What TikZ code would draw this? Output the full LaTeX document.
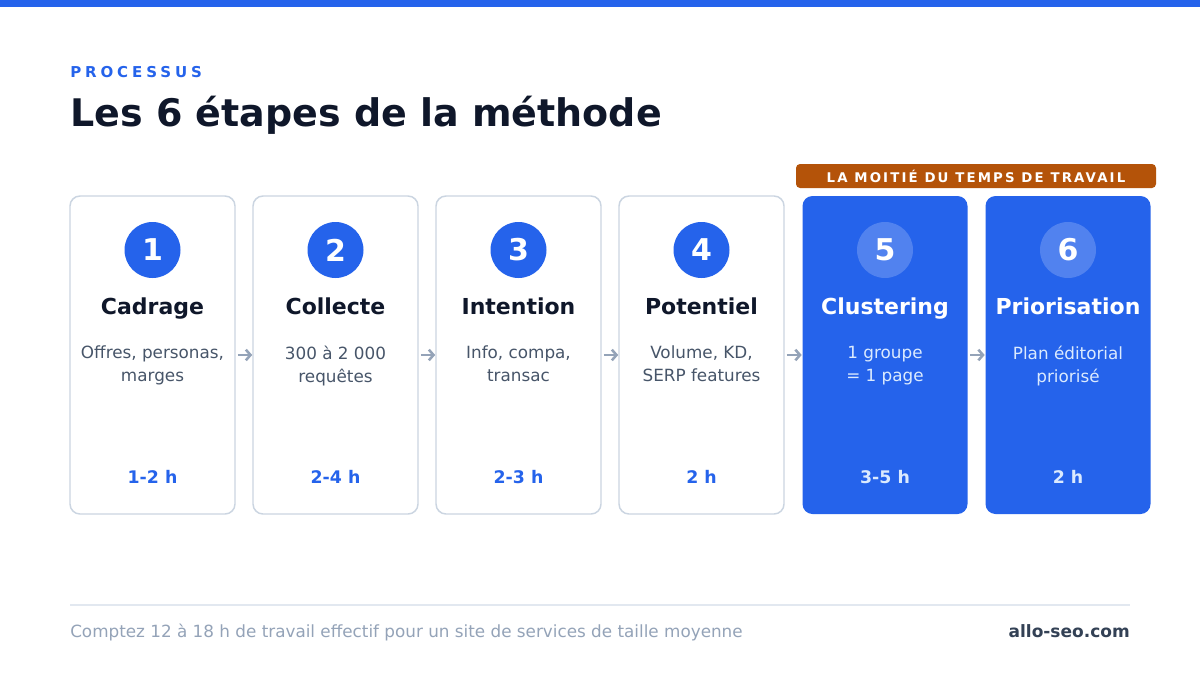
\documentclass[tikz,border=0pt]{standalone}
\usepackage{fontspec}
\setmainfont{DejaVu Sans}
\usetikzlibrary{positioning}
\usetikzlibrary{arrows.meta}

\definecolor{brandblue}{HTML}{2563EB}
\definecolor{ink}{HTML}{0F172A}
\definecolor{muted}{HTML}{475569}
\definecolor{cardline}{HTML}{CBD5E1}
\definecolor{flowgray}{HTML}{94A3B8}
\definecolor{rust}{HTML}{B45309}
\definecolor{rule}{HTML}{E2E8F0}
\definecolor{slate}{HTML}{334155}
\definecolor{paleblue}{HTML}{DBEAFE}
\definecolor{softblue}{HTML}{5182EF}

\tikzset{
  card/.style={rectangle, rounded corners=7.5pt, minimum width=123.75pt, minimum height=238.5pt, inner sep=0pt, outer sep=0pt},
  plaincard/.style={card, draw=cardline, line width=1.1pt, fill=white},
  bluecard/.style={card, fill=brandblue},
  numdot/.style={circle, minimum size=42pt, inner sep=0pt, text=white, font=\bfseries\fontsize{22.5}{27}\selectfont},
  stagetitle/.style={anchor=base, inner sep=0pt, font=\bfseries\fontsize{16.5}{20}\selectfont},
  stagetext/.style={anchor=north, inner sep=0pt, align=center, font=\fontsize{12.6}{17.25}\selectfont},
  stagetime/.style={anchor=base, inner sep=0pt, font=\bfseries\fontsize{13}{15}\selectfont},
  flow/.style={draw=flowgray, line width=1.9pt, -{Straight Barb[length=3.5pt,width=8pt]}, shorten <=2.2pt, shorten >=0.6pt}
}

\begin{document}
\begin{tikzpicture}[x=0.75pt,y=-0.75pt]
\useasboundingbox (0,0) rectangle (1200,675);
\fill[white] (0,0) rectangle (1200,675);
\fill[brandblue] (0,0) rectangle (1200,7);

% heading
\node[anchor=base west, inner sep=0pt, text=brandblue, font=\bfseries\fontsize{11.25}{13}\selectfont\addfontfeature{LetterSpace=26}] (kicker) at (70,77.5) {PROCESSUS};
\node[anchor=base west, inner sep=0pt, text=ink, font=\bfseries\fontsize{28.5}{34}\selectfont] (headline) at (70,126) {Les 6 étapes de la méthode};

% cards
\node[plaincard] (c1) at (152.5,355) {};
\node[plaincard] (c2) at (335.5,355) {};
\node[plaincard] (c3) at (518.5,355) {};
\node[plaincard] (c4) at (701.5,355) {};
\node[bluecard] (c5) at (885,355) {};
\node[bluecard] (c6) at (1068,355) {};

\node[rectangle, rounded corners=3pt, fill=rust, minimum width=270pt, minimum height=18pt, inner sep=0pt, text=white, font=\bfseries\fontsize{10}{12}\selectfont\addfontfeature{LetterSpace=16}] (half) at (976,176) {LA MOITIÉ DU TEMPS DE TRAVAIL};

% step 1
\node[numdot, fill=brandblue] (n1) at (152.5,250) {1};
\node[stagetitle, text=ink] (t1) at (152.5,314) {Cadrage};
\node[stagetext, text=muted] (d1) at (152.5,345.5) {Offres, personas,\\marges};
\node[stagetime, text=brandblue] (h1) at (152.5,483) {1-2 h};
% step 2
\node[numdot, fill=brandblue] (n2) at (335.5,250) {2};
\node[stagetitle, text=ink] (t2) at (335.5,314) {Collecte};
\node[stagetext, text=muted] (d2) at (335.5,345.5) {300 à 2 000\\requêtes};
\node[stagetime, text=brandblue] (h2) at (335.5,483) {2-4 h};
% step 3
\node[numdot, fill=brandblue] (n3) at (518.5,250) {3};
\node[stagetitle, text=ink] (t3) at (518.5,314) {Intention};
\node[stagetext, text=muted] (d3) at (518.5,345.5) {Info, compa,\\transac};
\node[stagetime, text=brandblue] (h3) at (518.5,483) {2-3 h};
% step 4
\node[numdot, fill=brandblue] (n4) at (701.5,250) {4};
\node[stagetitle, text=ink] (t4) at (701.5,314) {Potentiel};
\node[stagetext, text=muted] (d4) at (701.5,345.5) {Volume, KD,\\SERP features};
\node[stagetime, text=brandblue] (h4) at (701.5,483) {2 h};
% step 5
\node[numdot, fill=softblue] (n5) at (885,250) {5};
\node[stagetitle, text=white] (t5) at (885,314) {Clustering};
\node[stagetext, text=paleblue] (d5) at (885,345.5) {1 groupe\\= 1 page};
\node[stagetime, text=paleblue] (h5) at (885,483) {3-5 h};
% step 6
\node[numdot, fill=softblue] (n6) at (1068,250) {6};
\node[stagetitle, text=white] (t6) at (1068,314) {Priorisation};
\node[stagetext, text=paleblue] (d6) at (1068,345.5) {Plan éditorial\\priorisé};
\node[stagetime, text=paleblue] (h6) at (1068,483) {2 h};

% arrows
\draw[flow] (c1.east) -- (c2.west);
\draw[flow] (c2.east) -- (c3.west);
\draw[flow] (c3.east) -- (c4.west);
\draw[flow] (c4.east) -- (c5.west);
\draw[flow] (c5.east) -- (c6.west);

% footer
\draw[rule, line width=1.1pt] (70,605) -- (1130,605);
\node[anchor=base west, inner sep=0pt, text=flowgray, font=\fontsize{12.6}{14}\selectfont] (note) at (70,637) {Comptez 12 à 18 h de travail effectif pour un site de services de taille moyenne};
\node[anchor=base east, inner sep=0pt, text=slate, font=\bfseries\fontsize{12.75}{15}\selectfont] (site) at (1130,637) {allo-seo.com};

\end{tikzpicture}
\end{document}
